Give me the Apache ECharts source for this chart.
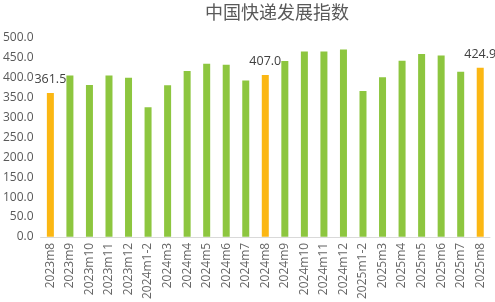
<!DOCTYPE html>
<html><head><meta charset="utf-8">
<script src="https://cdn.jsdelivr.net/npm/echarts@6/dist/echarts.min.js"></script>
<style>html,body{margin:0;padding:0;background:#fff}#c{width:495px;height:302px}</style>
</head><body><div id="c"></div>
<script>
const title = '中国快递发展指数';
const categories = ['2023m8','2023m9','2023m10','2023m11','2023m12','2024m1-2','2024m3','2024m4','2024m5','2024m6','2024m7','2024m8','2024m9','2024m10','2024m11','2024m12','2025m1-2','2025m3','2025m4','2025m5','2025m6','2025m7','2025m8'];
const values = [361.5,406,382,406,400,326,381,417,435,433,393,407.0,442,466,466,471,367,401,443,460,456,415,424.9];
const highlighted = ['2023m8','2024m8','2025m8'];
const yTicks = {min:0, max:500, interval:50};

const GREEN = '#8dc63f', ORANGE = '#fbb713';
const data = values.map((v,i)=>{
  const hi = highlighted.includes(categories[i]);
  return {
    value: v,
    itemStyle: {color: hi ? ORANGE : GREEN},
    label: hi ? {show:true, position:'top', distance:7, formatter: p=>p.value.toFixed(1), color:'#404040', fontSize:12.5, fontFamily:'Open Sans'} : {show:false}
  };
});
const chart = echarts.init(document.getElementById('c'));
chart.setOption({
  animation:false,
  title:{text:title,left:277,top:3,padding:0,textAlign:'center',textStyle:{fontSize:18,fontWeight:'normal',color:'#595959',fontFamily:'Noto Sans CJK SC'}},
  grid:{left:39,right:5,top:38,bottom:56,containLabel:false},
  xAxis:{type:'category',data:categories,
    axisLine:{show:true,lineStyle:{color:'#d9d9d9'}},axisTick:{show:false},
    axisLabel:{rotate:90,interval:0,fontSize:12,color:'#666666',fontFamily:'Open Sans',margin:6}},
  yAxis:{type:'value',min:yTicks.min,max:yTicks.max,interval:yTicks.interval,
    axisLine:{show:false},axisTick:{show:false},splitLine:{show:false},
    axisLabel:{formatter:v=>v.toFixed(1),fontSize:12,color:'#595959',fontFamily:'Open Sans',margin:7}},
  series:[{type:'bar',data:data,barWidth:7}]
});
</script></body></html>
